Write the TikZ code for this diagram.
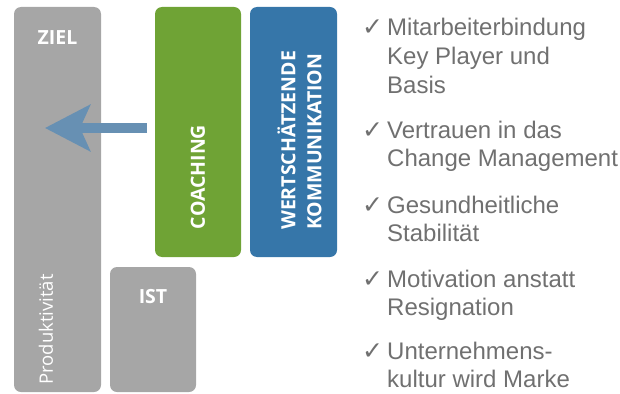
\documentclass[tikz,border=0pt]{standalone}
\usepackage{fontspec}
\setmainfont{Liberation Sans}
\newfontfamily\labelfont{Open Sans}
\newfontfamily\symfont{DejaVu Sans}
\usetikzlibrary{arrows.meta,positioning}
\definecolor{barGray}{RGB}{166,166,166}
\definecolor{coachGreen}{RGB}{111,163,53}
\definecolor{kommBlue}{RGB}{54,118,169}
\definecolor{arrowBlue}{RGB}{103,144,179}
\definecolor{listGray}{RGB}{112,112,112}
\begin{document}
\begin{tikzpicture}[x=1pt, y=-1pt,
  bar/.style={rounded corners=7pt, inner sep=0pt},
  boxlabel/.style={text=white, inner sep=0pt, font=\labelfont\bfseries\fontsize{19.5}{26}\selectfont},
  item/.style={text=listGray, inner sep=0pt, align=left, anchor=base west, font=\fontsize{24}{28.5}\selectfont},
  check/.style={text=listGray, inner sep=0pt, anchor=base west, font=\symfont\bfseries\fontsize{25}{28}\selectfont}]
\useasboundingbox (0,0) rectangle (620,393);
\node[bar, fill=barGray, minimum width=87pt, minimum height=385pt] (ziel) at (57.5,199.5) {};
\node[bar, fill=barGray, minimum width=86pt, minimum height=125pt] (ist) at (153,329.5) {};
\node[bar, fill=coachGreen, minimum width=86pt, minimum height=250pt] (coach) at (198,132) {};
\node[bar, fill=kommBlue, minimum width=87pt, minimum height=250pt] (komm) at (293.5,132) {};
\node[boxlabel] (zieltxt) at (57.5,38) {ZIEL};
\node[boxlabel] (isttxt) at (153,297) {IST};
\node[boxlabel, rotate=90] (coachtxt) at (198,177) {COACHING};
\node[boxlabel, rotate=90, anchor=west, align=left] (kommtxt) at (299.5,230) {WERTSCHÄTZENDE\\KOMMUNIKATION};
\node[text=white, inner sep=0pt, rotate=90, anchor=west, font=\labelfont\fontsize{18.5}{22}\selectfont] (prodtxt) at (46,385) {Produktivität};
\coordinate (tail) at (147,128);
\coordinate (tip) at (45,128);
\draw[draw=arrowBlue, line width=10pt, -{Stealth[length=45pt, width=46pt, inset=10pt]}] (tail) -- (tip);
\node[check] (c1) at (362,36) {✓};
\node[item] (m1) at (387,93) {Mitarbeiterbindung\\Key Player und\\Basis};
\node[check] (c2) at (362,138) {✓};
\node[item] (m2) at (387,166.5) {Vertrauen in das\\Change Management};
\node[check] (c3) at (362,213) {✓};
\node[item] (m3) at (387,241.5) {Gesundheitliche\\Stabilität};
\node[check] (c4) at (362,287) {✓};
\node[item] (m4) at (387,315.5) {Motivation anstatt\\Resignation};
\node[check] (c5) at (362,359) {✓};
\node[item] (m5) at (387,387.5) {Unternehmens-\\kultur wird Marke};
\end{tikzpicture}
\end{document}
